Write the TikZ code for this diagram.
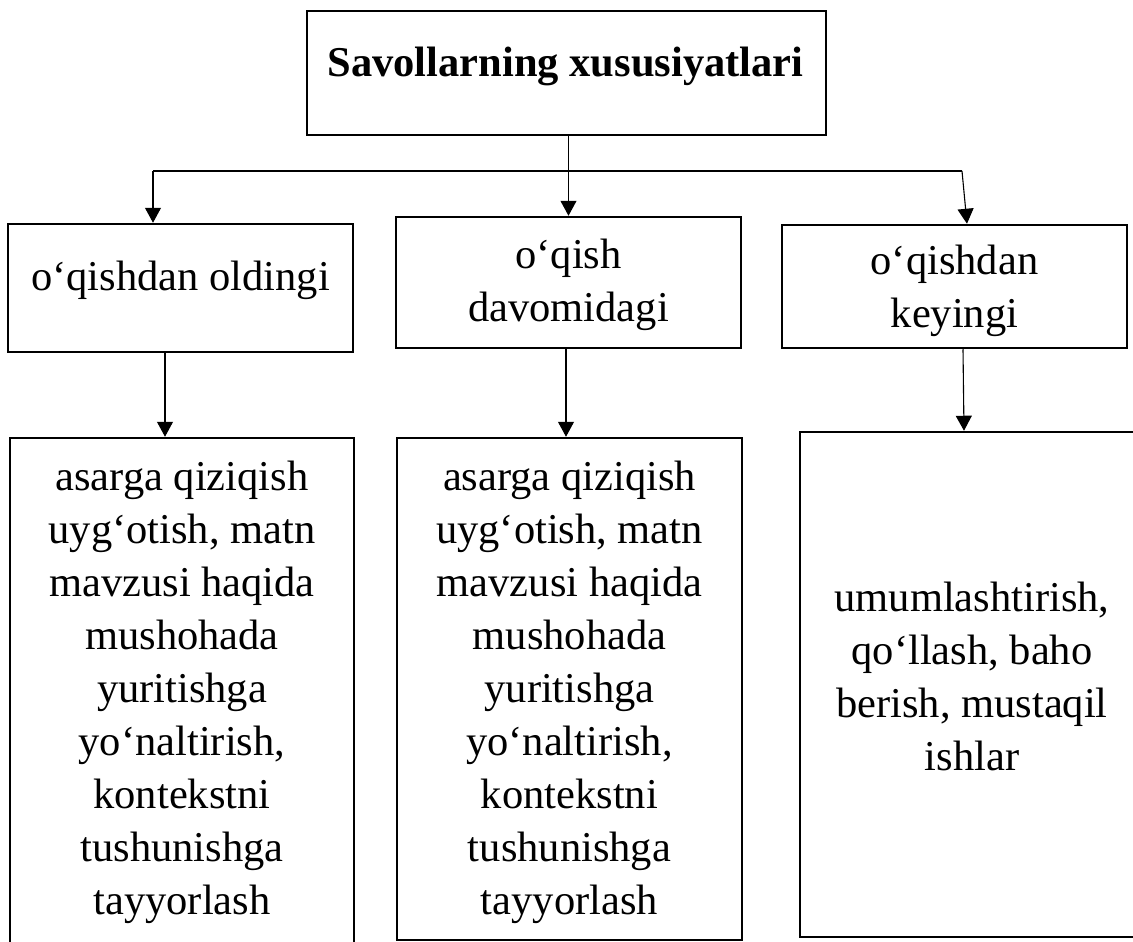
\documentclass[tikz,border=0pt]{standalone}
\usepackage{fontspec}
\setmainfont{Liberation Serif}
\usetikzlibrary{arrows.meta}
\begin{document}
\begin{tikzpicture}[x=1pt,y=-1pt,
  box/.style={draw, rectangle, line width=2.5pt, inner sep=0pt},
  txt/.style={font=\fontsize{42.5}{53}\selectfont, align=center, anchor=base, inner sep=0pt},
  conn/.style={line width=1.1pt, -{Triangle[width=16pt,length=15pt]}},
  link/.style={line width=1.1pt}]
\path[use as bounding box] (0,0) rectangle (1133,942);

% boxes
\node[box, minimum width=519pt, minimum height=124pt] (top) at (566.5,73) {};
\node[box, minimum width=345pt, minimum height=128pt] (ul) at (180.5,288) {};
\node[box, minimum width=345pt, minimum height=131pt] (um) at (568.5,282.5) {};
\node[box, minimum width=345pt, minimum height=123pt] (ur) at (954.5,286.5) {};
\node[box, minimum width=344pt, minimum height=522pt] (ll) at (182,699) {};
\node[box, minimum width=345pt, minimum height=502pt] (lm) at (569.5,689) {};
\node[box, minimum width=344pt, minimum height=505pt] (lr) at (972,684.5) {};

% texts (anchor base = baseline of the last line)
\node[txt, font={\fontsize{42.5}{53}\selectfont\bfseries}] (ttop) at (565.5,77) {Savollarning xususiyatlari};
\node[txt] (tul) at (180.5,290) {o‘qishdan oldingi};
\node[txt] (tum) at (568.5,321) {o‘qish\\davomidagi};
\node[txt] (tur) at (954.5,327) {o‘qishdan\\keyingi};
\node[txt] (tll) at (182,914) {asarga qiziqish\\uyg‘otish, matn\\mavzusi haqida\\mushohada\\yuritishga\\yo‘naltirish,\\kontekstni\\tushunishga\\tayyorlash};
\node[txt] (tlm) at (569.5,914) {asarga qiziqish\\uyg‘otish, matn\\mavzusi haqida\\mushohada\\yuritishga\\yo‘naltirish,\\kontekstni\\tushunishga\\tayyorlash};
\node[txt] (tlr) at (972,770) {umumlashtirish,\\qo‘llash, baho\\berish, mustaqil\\ishlar};

% connectors
\coordinate (hl) at (153,171);
\coordinate (hr) at (962,171);
\draw[link] (hl) -- (hr);
\draw[conn] (um.north |- top.south) -- (um.north);
\draw[conn] (hl) -- (hl |- ul.north);
\draw[conn] (hr) -- ([xshift=12.5pt]ur.north);
\draw[conn] ([xshift=-15.5pt]ul.south) -- ([xshift=-17pt]ll.north);
\draw[conn] ([xshift=-2.5pt]um.south) -- ([xshift=-3.5pt]lm.north);
\draw[conn] ([xshift=8.5pt]ur.south) -- ([xshift=-8pt]lr.north);
\end{tikzpicture}
\end{document}
